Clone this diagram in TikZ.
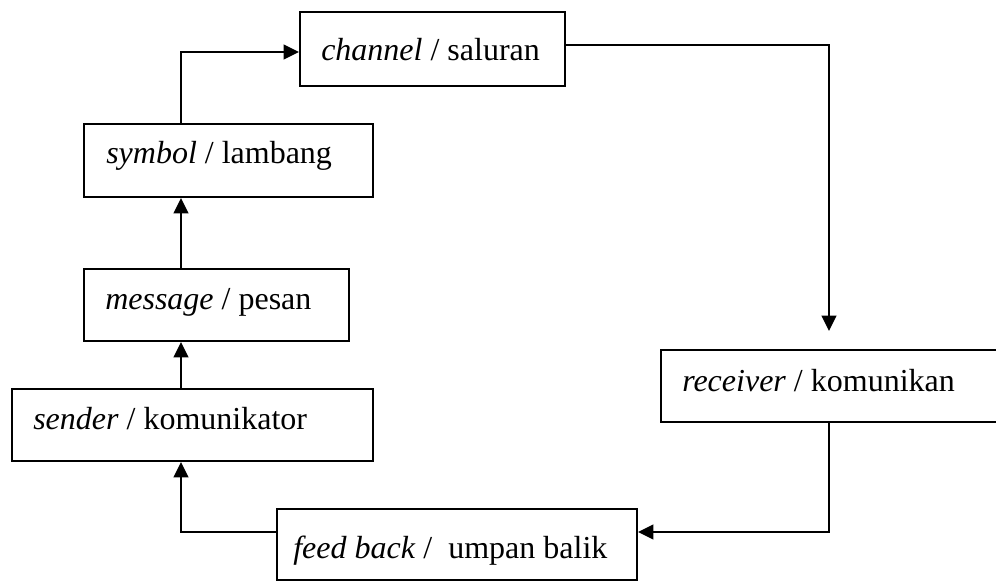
\documentclass[tikz,border=0pt]{standalone}
\usepackage{fontspec}
\setmainfont{Liberation Serif}
\usetikzlibrary{arrows.meta,fit,calc}
\begin{document}
\begin{tikzpicture}[x=0.75pt,y=-0.75pt,
  box/.style={draw, line width=1.5pt, inner sep=0pt, rectangle},
  lbl/.style={anchor=base west, inner sep=0pt, font=\fontsize{24}{28}\selectfont},
  arr/.style={line width=1.4pt, -{Triangle[length=11.5pt,width=11pt]}},
]
\clip (0,0) rectangle (996,581);

% boxes
\node[box, fit={(300,12) (565,86)}]   (channel)  {};
\node[box, fit={(84,124) (373,197)}]  (symbol)   {};
\node[box, fit={(84,269) (349,341)}]  (message)  {};
\node[box, fit={(12,389) (373,461)}]  (sender)   {};
\node[box, fit={(661,350) (1010,422)}] (receiver) {};
\node[box, fit={(277,509) (637,580)}] (feedback) {};

% labels
\node[lbl] (tchannel)  at (321,61)  {\textit{channel} / saluran};
\node[lbl] (tsymbol)   at (106,164) {\textit{symbol} / lambang};
\node[lbl] (tmessage)  at (105,309) {\textit{message} / pesan};
\node[lbl] (tsender)   at (33,429)  {\textit{sender} / komunikator};
\node[lbl] (treceiver) at (682,391) {\textit{receiver} / komunikan};
\node[lbl] (tfeedback) at (293,558) {\textit{feed back} /\ \ umpan balik};

% vertical guide lines for the connectors
\coordinate (spine) at (181,0);
\coordinate (rx) at (829,0);

% connectors
\draw[arr] (sender.north -| spine) -- (message.south -| spine);
\draw[arr] (message.north -| spine) -- (symbol.south -| spine);
\draw[arr] (symbol.north -| spine) |- ($(channel.west)+(0,3)$);
\draw[arr] ($(channel.east)+(0,-4)$) -| ($(receiver.north -| rx)+(0,-18)$);
\draw[arr] (receiver.south -| rx) |- ($(feedback.east)+(0,-12.5)$);
\draw[arr] ($(feedback.west)+(0,-12.5)$) -| (sender.south -| spine);
\end{tikzpicture}
\end{document}
